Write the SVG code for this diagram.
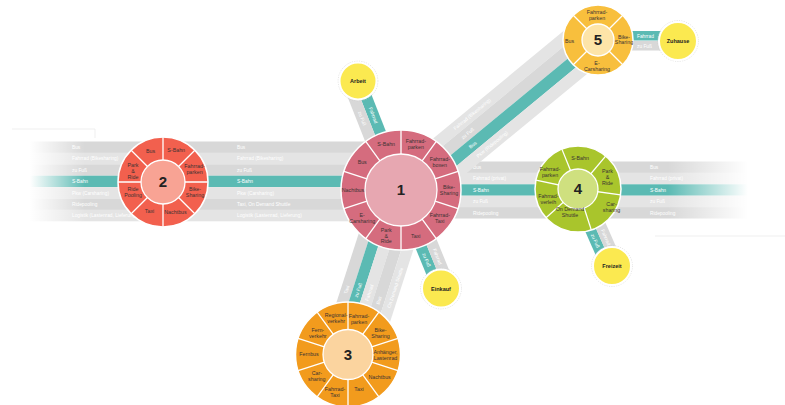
<svg xmlns="http://www.w3.org/2000/svg" width="785" height="405" viewBox="0 0 785 405">
<defs>
<style>
.a{fill:#d8d8d8}.b{fill:#e4e4e4}.t{fill:#5bbab3}
.bt{font-family:"Liberation Sans",Arial,sans-serif;font-size:4.8px;fill:#fff}
.sl{font-family:"Liberation Sans",Arial,sans-serif;font-size:5.3px;fill:#3a3333;text-anchor:middle}
.num{font-family:"Liberation Sans",Arial,sans-serif;font-size:15px;font-weight:bold;fill:#222;text-anchor:middle}
.dv{stroke:#fff;stroke-width:1.3;fill:none}
.ow{stroke:#fff;stroke-width:1.5}
.iw{stroke:#fff;stroke-width:1.3}
.df{fill:#fbe950;stroke:#fff;stroke-width:2}
.dr{fill:none;stroke:#c9c9c9;stroke-width:.6;stroke-dasharray:1.2 1.2}
.dl{font-family:"Liberation Sans",Arial,sans-serif;font-size:5.5px;font-weight:bold;fill:#222;text-anchor:middle}
.fl{fill:none;stroke:#ebebeb;stroke-width:.8}
</style>
<linearGradient id="fadeL" gradientUnits="userSpaceOnUse" x1="30" y1="0" x2="85" y2="0">
<stop offset="0" stop-color="#fff" stop-opacity="1"/><stop offset="1" stop-color="#fff" stop-opacity="0"/>
</linearGradient>
<linearGradient id="fadeR" gradientUnits="userSpaceOnUse" x1="668" y1="0" x2="748" y2="0">
<stop offset="0" stop-color="#fff" stop-opacity="0"/><stop offset="1" stop-color="#fff" stop-opacity="1"/>
</linearGradient>
</defs>
<rect width="785" height="405" fill="#fff"/>
<polyline class="fl" points="12,129 95,129 95,138"/>
<line class="fl" x1="655" y1="236" x2="785" y2="236"/>

<g id="connectors">
  <g id="band-2-1">
    <rect class="a" x="30" y="141.5" width="371" height="11.4"/>
    <rect class="b" x="30" y="152.9" width="371" height="11.4"/>
    <rect class="a" x="30" y="164.3" width="371" height="11.4"/>
    <rect class="t" x="30" y="175.7" width="371" height="11.4"/>
    <rect class="b" x="30" y="187.1" width="371" height="11.4"/>
    <rect class="a" x="30" y="198.5" width="371" height="11.4"/>
    <rect class="b" x="30" y="209.9" width="371" height="11.4"/>
    <rect x="0" y="140" width="86" height="83" fill="url(#fadeL)"/>
    <text class="bt" x="72" y="148.9">Bus</text>
    <text class="bt" x="72" y="160.3">Fahrrad (Bikesharing)</text>
    <text class="bt" x="72" y="171.7">zu Fuß</text>
    <text class="bt" x="72" y="183.1">S-Bahn</text>
    <text class="bt" x="72" y="194.5">Pkw (Carsharing)</text>
    <text class="bt" x="72" y="205.9">Ridepooling</text>
    <text class="bt" x="72" y="217.3">Logistik (Lastenrad, Lieferung)</text>
    <text class="bt" x="237" y="148.9">Bus</text>
    <text class="bt" x="237" y="160.3">Fahrrad (Bikesharing)</text>
    <text class="bt" x="237" y="171.7">zu Fuß</text>
    <text class="bt" x="237" y="183.1">S-Bahn</text>
    <text class="bt" x="237" y="194.5">Pkw (Carsharing)</text>
    <text class="bt" x="237" y="205.9">Taxi, On Demand Shuttle</text>
    <text class="bt" x="237" y="217.3">Logistik (Lastenrad, Lieferung)</text>
  </g>
  <g id="band-1-4">
    <rect class="a" x="401" y="161.5" width="350" height="11.4"/>
    <rect class="b" x="401" y="172.9" width="350" height="11.4"/>
    <rect class="t" x="401" y="184.3" width="350" height="11.4"/>
    <rect class="b" x="401" y="195.7" width="350" height="11.4"/>
    <rect class="a" x="401" y="207.1" width="350" height="11.4"/>
    <rect x="668" y="160" width="117" height="60" fill="url(#fadeR)"/>
    <text class="bt" x="473" y="168.9">Bus</text>
    <text class="bt" x="473" y="180.3">Fahrrad (privat)</text>
    <text class="bt" x="473" y="191.7">S-Bahn</text>
    <text class="bt" x="473" y="203.1">zu Fuß</text>
    <text class="bt" x="473" y="214.5">Ridepooling</text>
    <text class="bt" x="650" y="168.9">Bus</text>
    <text class="bt" x="650" y="180.3">Fahrrad (privat)</text>
    <text class="bt" x="650" y="191.7">S-Bahn</text>
    <text class="bt" x="650" y="203.1">zu Fuß</text>
    <text class="bt" x="650" y="214.5">Ridepooling</text>
  </g>
  <g id="band-1-5" transform="translate(401 190) rotate(-39.5)">
    <rect class="b" x="0" y="-19.3" width="250" height="12"/>
    <rect class="a" x="0" y="-7.3" width="250" height="12"/>
    <rect class="t" x="0" y="4.7" width="250" height="12"/>
    <rect class="b" x="0" y="16.7" width="250" height="12"/>
    <text class="bt" x="80" y="-11.6">Fahrrad (Bikesharing)</text>
    <text class="bt" x="80" y="0.4">zu Fuß</text>
    <text class="bt" x="80" y="12.4">Bus</text>
    <text class="bt" x="80" y="24.4">Pkw (Ridepooling)</text>
  </g>
  <g id="band-1-3" transform="translate(348 354.5) rotate(-72.1)">
    <rect class="a" x="0" y="-27" width="172" height="11.5"/>
    <rect class="t" x="0" y="-15.5" width="172" height="11"/>
    <rect class="b" x="0" y="-4.5" width="172" height="11.5"/>
    <rect class="a" x="0" y="7" width="172" height="11.5"/>
    <rect class="b" x="0" y="18.5" width="172" height="11.5"/>
    <text class="bt" x="57" y="-19.5">Taxi</text>
    <text class="bt" x="57" y="-8.3">zu Fuß</text>
    <text class="bt" x="57" y="3">Fahrrad</text>
    <text class="bt" x="57" y="14.5">Bus</text>
    <text class="bt" x="57" y="26">On Demand Shuttle</text>
  </g>
  <g id="band-1-arbeit" transform="translate(358 81) rotate(68.5)">
    <rect class="t" x="0" y="-7.5" width="117" height="11.5"/>
    <rect class="a" x="0" y="4" width="117" height="11.5"/>
    <text class="bt" x="29" y="0">Fahrrad</text>
    <text class="bt" x="29" y="11.5">zu Fuß</text>
  </g>
  <g id="band-1-einkauf" transform="translate(401 190) rotate(67.8)">
    <rect class="t" x="0" y="-2.9" width="106" height="11.4"/>
    <rect class="a" x="0" y="-14.3" width="106" height="11.4"/>
    <text class="bt" x="67" y="4.5">zu Fuß</text>
    <text class="bt" x="67" y="-6.9">Fahrrad</text>
  </g>
  <g id="band-4-freizeit" transform="translate(578 189) rotate(66.2)">
    <rect class="t" x="0" y="-0.5" width="84" height="11"/>
    <rect class="a" x="0" y="-11.5" width="84" height="11"/>
    <text class="bt" x="47" y="6.7">zu Fuß</text>
    <text class="bt" x="47" y="-4.3">Fahrrad</text>
  </g>
  <g id="band-5-zuhause">
    <rect class="t" x="620" y="31" width="50" height="9.5"/>
    <rect class="a" x="620" y="41" width="50" height="9.5"/>
    <text class="bt" x="637" y="37.5">Fahrrad</text>
    <text class="bt" x="637" y="47.5">zu Fuß</text>
  </g>
</g>

<g id="hub-1">
  <circle class="ow" cx="401" cy="190" r="60" fill="#d56c7e"/>
  <line class="dv" x1="401" y1="130" x2="401" y2="250"/>
  <line class="dv" x1="436.27" y1="141.46" x2="365.73" y2="238.54"/>
  <line class="dv" x1="458.06" y1="171.46" x2="343.94" y2="208.54"/>
  <line class="dv" x1="458.06" y1="208.54" x2="343.94" y2="171.46"/>
  <line class="dv" x1="436.27" y1="238.54" x2="365.73" y2="141.46"/>
  <circle class="iw" cx="401" cy="190" r="36" fill="#e7a7b1"/>
  <text class="num" x="401" y="195.4">1</text>
  <text class="sl"><tspan x="415.8" y="143.3">Fahrrad-</tspan><tspan x="415.8" y="149.1">parken</tspan></text>
  <text class="sl"><tspan x="439.8" y="160.8">Fahrrad-</tspan><tspan x="439.8" y="166.6">boxen</tspan></text>
  <text class="sl"><tspan x="449" y="189">Bike-</tspan><tspan x="449" y="194.8">Sharing</tspan></text>
  <text class="sl"><tspan x="439.8" y="217.2">Fahrrad-</tspan><tspan x="439.8" y="223">Taxi</tspan></text>
  <text class="sl" x="415.8" y="237.6">Taxi</text>
  <text class="sl"><tspan x="386.2" y="231.9">Park</tspan><tspan x="386.2" y="237.6">&amp;</tspan><tspan x="386.2" y="243.3">Ride</tspan></text>
  <text class="sl"><tspan x="362.2" y="217.2">E-</tspan><tspan x="362.2" y="223">Carsharing</tspan></text>
  <text class="sl" x="353" y="191.9">Nachtbus</text>
  <text class="sl" x="362.2" y="163.7">Bus</text>
  <text class="sl" x="386.2" y="146.2">S-Bahn</text>
</g>

<g id="hub-2">
  <circle class="ow" cx="163" cy="182" r="45" fill="#f2604e"/>
  <line class="dv" x1="163" y1="137" x2="163" y2="227"/>
  <line class="dv" x1="118" y1="182" x2="208" y2="182"/>
  <line class="dv" x1="194.82" y1="213.82" x2="131.18" y2="150.18"/>
  <line class="dv" x1="194.82" y1="150.18" x2="131.18" y2="213.82"/>
  <circle class="iw" cx="163" cy="182" r="22" fill="#f8a394"/>
  <text class="num" x="163" y="187.4">2</text>
  <text class="sl" x="176.2" y="151.9">S-Bahn</text>
  <text class="sl"><tspan x="194.5" y="168.2">Fahrrad-</tspan><tspan x="194.5" y="174">parken</tspan></text>
  <text class="sl"><tspan x="195" y="191">Bike-</tspan><tspan x="195" y="196.8">Sharing</tspan></text>
  <text class="sl" x="175.5" y="213.8">Nachtbus</text>
  <text class="sl" x="149.5" y="213.3">Taxi</text>
  <text class="sl"><tspan x="133" y="191">Ride</tspan><tspan x="133" y="196.8">Pooling</tspan></text>
  <text class="sl"><tspan x="133" y="167.4">Park</tspan><tspan x="133" y="173.1">&amp;</tspan><tspan x="133" y="178.8">Ride</tspan></text>
  <text class="sl" x="150.5" y="152.9">Bus</text>
</g>

<g id="hub-3">
  <circle class="ow" cx="348" cy="354.5" r="52.5" fill="#f29b1d"/>
  <line class="dv" x1="348" y1="302" x2="348" y2="407"/>
  <line class="dv" x1="378.86" y1="312.03" x2="317.14" y2="396.97"/>
  <line class="dv" x1="397.93" y1="338.28" x2="298.07" y2="370.72"/>
  <line class="dv" x1="397.93" y1="370.72" x2="298.07" y2="338.28"/>
  <line class="dv" x1="378.86" y1="396.97" x2="317.14" y2="312.03"/>
  <circle class="iw" cx="348" cy="354.5" r="25" fill="#fbd49f"/>
  <text class="num" x="348" y="359.9">3</text>
  <text class="sl"><tspan x="336.1" y="317">Regional-</tspan><tspan x="336.1" y="322.8">verkehr</tspan></text>
  <text class="sl"><tspan x="359" y="317.7">Fahrrad-</tspan><tspan x="359" y="323.5">parken</tspan></text>
  <text class="sl"><tspan x="380.5" y="332.3">Bike-</tspan><tspan x="380.5" y="338.1">Sharing</tspan></text>
  <text class="sl"><tspan x="385.5" y="354">Anhänger,</tspan><tspan x="385.5" y="359.8">Lastenrad</tspan></text>
  <text class="sl" x="379.6" y="378.6">Nachtbus</text>
  <text class="sl" x="359" y="391">Taxi</text>
  <text class="sl"><tspan x="335" y="391">Fahrrad-</tspan><tspan x="335" y="396.8">Taxi</tspan></text>
  <text class="sl"><tspan x="316.8" y="375.2">Car-</tspan><tspan x="316.8" y="381">sharing</tspan></text>
  <text class="sl" x="309" y="356.4">Fernbus</text>
  <text class="sl"><tspan x="317.8" y="331.8">Fern-</tspan><tspan x="317.8" y="337.6">verkehr</tspan></text>
</g>

<g id="hub-4">
  <circle class="ow" cx="578" cy="189" r="43" fill="#a9c52c"/>
  <line class="dv" x1="578" y1="189" x2="561.89" y2="149.13"/>
  <line class="dv" x1="578" y1="189" x2="605.64" y2="156.06"/>
  <line class="dv" x1="578" y1="189" x2="620.58" y2="194.98"/>
  <line class="dv" x1="578" y1="189" x2="591.29" y2="229.9"/>
  <line class="dv" x1="578" y1="189" x2="546.05" y2="217.77"/>
  <line class="dv" x1="578" y1="189" x2="535.94" y2="180.06"/>
  <circle class="iw" cx="578" cy="189" r="20" fill="#cfe07f"/>
  <text class="num" x="578" y="194.4">4</text>
  <text class="sl" x="580" y="160.2">S-Bahn</text>
  <text class="sl"><tspan x="607.5" y="173.2">Park</tspan><tspan x="607.5" y="178.9">&amp;</tspan><tspan x="607.5" y="184.6">Ride</tspan></text>
  <text class="sl"><tspan x="611.5" y="206">Car-</tspan><tspan x="611.5" y="211.8">sharing</tspan></text>
  <text class="sl"><tspan x="570" y="211">On Demand</tspan><tspan x="570" y="216.8">Shuttle</tspan></text>
  <text class="sl"><tspan x="548.3" y="198">Fahrrad-</tspan><tspan x="548.3" y="203.8">verleih</tspan></text>
  <text class="sl"><tspan x="550" y="171">Fahrrad-</tspan><tspan x="550" y="176.8">parken</tspan></text>
</g>

<g id="hub-5">
  <circle class="ow" cx="598" cy="40" r="35" fill="#f8bf3d"/>
  <line class="dv" x1="622.75" y1="64.75" x2="573.25" y2="15.25"/>
  <line class="dv" x1="622.75" y1="15.25" x2="573.25" y2="64.75"/>
  <circle class="iw" cx="598" cy="40" r="16" fill="#fde4a8"/>
  <text class="num" x="598" y="45.4">5</text>
  <text class="sl"><tspan x="597" y="14">Fahrrad-</tspan><tspan x="597" y="19.8">parken</tspan></text>
  <text class="sl"><tspan x="624" y="38.5">Bike-</tspan><tspan x="624" y="44.3">Sharing</tspan></text>
  <text class="sl"><tspan x="597" y="65.3">E-</tspan><tspan x="597" y="71.1">Carsharing</tspan></text>
  <text class="sl" x="569.5" y="43.4">Bus</text>
</g>

<g id="arbeit">
  <circle class="dr" cx="358" cy="81" r="19.8"/>
  <circle class="df" cx="358" cy="81" r="18.5"/>
  <text class="dl" x="358" y="83">Arbeit</text>
</g>
<g id="zuhause">
  <circle class="dr" cx="678" cy="41" r="20.3"/>
  <circle class="df" cx="678" cy="41" r="19"/>
  <text class="dl" x="678" y="43">Zuhause</text>
</g>
<g id="einkauf">
  <circle class="dr" cx="441" cy="288.5" r="20.3"/>
  <circle class="df" cx="441" cy="288.5" r="19"/>
  <text class="dl" x="441" y="290.5">Einkauf</text>
</g>
<g id="freizeit">
  <circle class="dr" cx="612" cy="266" r="20.3"/>
  <circle class="df" cx="612" cy="266" r="19"/>
  <text class="dl" x="612" y="268">Freizeit</text>
</g>
</svg>
